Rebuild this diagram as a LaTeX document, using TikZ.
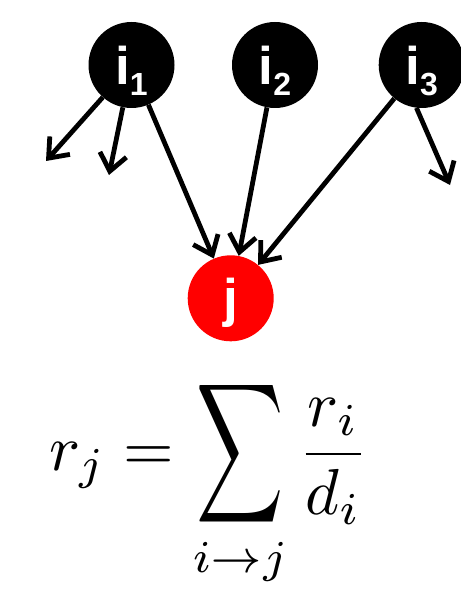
\documentclass[tikz,border=0pt]{standalone}
\usepackage{fontspec}
\usepackage{amsmath}
\usepackage{graphicx}
\usetikzlibrary{arrows.meta}
\newfontfamily\nodefont{Liberation Sans}
\newcommand{\isub}[1]{i\raisebox{-11pt}[0pt][0pt]{\fontsize{32}{32}\selectfont #1}}
\newcommand{\bigsum}{\mathop{\vcenter{\hbox{\scalebox{0.93}[1.5]{$\displaystyle\sum$}}}}\limits}
\tikzset{
  page/.style={x=1pt, y=-1pt}, % y runs downwards, 1pt = 1px
  vertex/.style={circle, minimum size=86pt, inner sep=0pt, text=white,
    font=\nodefont\bfseries\fontsize{53}{53}\selectfont},
  src/.style={vertex, fill=black},
  dst/.style={vertex, fill=red, text height=48pt, text depth=11pt},
  link/.style={line width=4.8pt, -{Straight Barb[length=17pt, width=27pt]}},
}
\begin{document}
\begin{tikzpicture}[page]
  \useasboundingbox (0,0) rectangle (460,596);

  \node[src] (i1) at (131.5,65) {\isub{1}};
  \node[src] (i2) at (275,65) {\isub{2}};
  \node[src] (i3) at (421.7,65) {\isub{3}};
  \node[dst] (j) at (230.7,298.3) {j};

  % loose ends
  \coordinate (o1) at (46,161);
  \coordinate (o2) at (109,175);
  \coordinate (o3) at (450,185);

  \draw[link] (i1) -- (o1);
  \draw[link] (i1) -- (o2);
  \draw[link] (i1) -- (j);
  \draw[link] (i2) -- (j);
  \draw[link] (i3) -- (j);
  \draw[link] (i3.-97) -- (o3);

  \node (rule) at (209,482) {\scalebox{6.5}{$\displaystyle r_j=\bigsum_{i\to j}\frac{r_i}{d_i}$}};
\end{tikzpicture}
\end{document}
